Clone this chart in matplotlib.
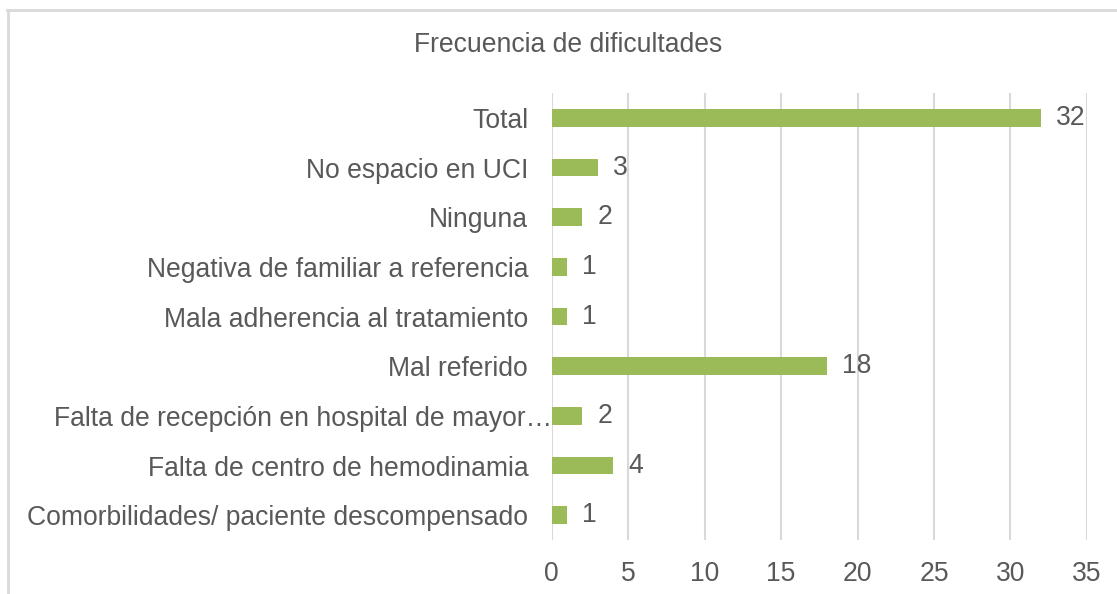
import matplotlib.pyplot as plt
import matplotlib.transforms as mtransforms
from matplotlib.lines import Line2D

# data (top to bottom as shown)
categories = ['Total',
              'No espacio en UCI',
              'Ninguna',
              'Negativa de familiar a referencia',
              'Mala adherencia al tratamiento',
              'Mal referido',
              'Falta de recepción en hospital de mayor…',
              'Falta de centro de hemodinamia',
              'Comorbilidades/ paciente descompensado']
values = [32, 3, 2, 1, 1, 18, 2, 4, 1]
xticks = [0, 5, 10, 15, 20, 25, 30, 35]
title = 'Frecuencia de dificultades'

bar_color = '#9BBB59'
text_color = '#595959'
grid_color = '#D9D9D9'
fs = 19.1

plt.rcParams['font.family'] = ['Liberation Sans', 'DejaVu Sans']

fig = plt.figure(figsize=(11.17, 5.94), dpi=100)
ax = fig.add_axes([0.494, 0.0909, 0.479, 0.7525])

y = list(range(len(categories)))[::-1]
bars = ax.barh(y, values, height=0.35, color=bar_color, zorder=3)
ax.bar_label(bars, padding=11, fontsize=fs, color=text_color)

ax.set_xlim(0, 35)
ax.set_ylim(-0.5, len(categories) - 0.5)
ax.set_xticks(xticks)
ax.set_yticks(y)
ax.set_yticklabels(categories)
ax.tick_params(axis='both', length=0, labelsize=fs, labelcolor=text_color)
ax.tick_params(axis='y', pad=17)
ax.tick_params(axis='x', pad=15)
ax.grid(axis='x', color=grid_color, linewidth=1.5, zorder=0)
for s in ax.spines.values():
    s.set_visible(False)

# truncated label sits closer to the axis in the original
for lbl in ax.get_yticklabels():
    if lbl.get_text().endswith('…'):
        off = mtransforms.ScaledTranslation(24 / 100, 0, fig.dpi_scale_trans)
        lbl.set_transform(lbl.get_transform() + off)

fig.text(568 / 1117, 1 - 45 / 594, title, ha='center', va='center',
         fontsize=fs, color=text_color)

# chart area border (partly cut off on right and bottom)
fig.add_artist(Line2D([7 / 1117, 1.0], [1 - 9.5 / 594, 1 - 9.5 / 594],
                      transform=fig.transFigure, color=grid_color, linewidth=2))
fig.add_artist(Line2D([7.5 / 1117, 7.5 / 1117], [0.0, 1 - 9.5 / 594],
                      transform=fig.transFigure, color=grid_color, linewidth=2))

plt.savefig('out.png', dpi=100)
